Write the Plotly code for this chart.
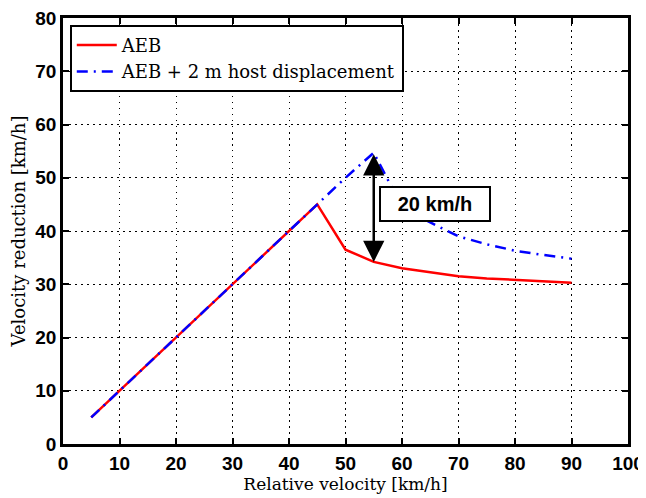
import plotly.graph_objects as go

rel_velocity = [5, 10, 15, 20, 25, 30, 35, 40, 45, 50, 55, 60, 65, 70, 75, 80, 85, 90]
aeb = [5, 10, 15, 20, 25, 30, 35, 40, 45, 36.5, 34.2, 33.0, 32.2, 31.5, 31.1, 30.8, 30.5, 30.3]
aeb_host = [5, 10, 15, 20, 25, 30, 35, 40, 45, 50.0, 54.7, 44.5, 41.6, 39.0, 37.5, 36.3, 35.5, 34.8]
x_ticks = [0, 10, 20, 30, 40, 50, 60, 70, 80, 90, 100]
y_ticks = [0, 10, 20, 30, 40, 50, 60, 70, 80]
arrow_x = 55
arrow_top = 54.7
arrow_bottom = 34.2
annot_x = 65.8
annot_y = 45.1
annot_text = "20 km/h"

SERIF = "DejaVu Serif, Liberation Serif, serif"
SANS = "Liberation Sans, Arial, sans-serif"

fig = go.Figure()
fig.add_trace(go.Scatter(x=rel_velocity, y=aeb, mode="lines", name="AEB",
                         line=dict(color="#ff0000", width=2.5)))
fig.add_trace(go.Scatter(x=rel_velocity, y=aeb_host, mode="lines",
                         name="AEB + 2 m host displacement",
                         line=dict(color="#0000ff", width=2.5, dash="11px,6px,2px,6px")))

# double-headed arrow
fig.add_annotation(x=arrow_x, y=arrow_bottom, ax=arrow_x, ay=arrow_top,
                   xref="x", yref="y", axref="x", ayref="y", text="",
                   showarrow=True, arrowhead=2, startarrowhead=2,
                   arrowside="end+start", arrowsize=1.7, startarrowsize=1.7,
                   arrowwidth=2.5, arrowcolor="black", standoff=0, startstandoff=0)
fig.add_annotation(x=annot_x, y=annot_y, xref="x", yref="y", text=annot_text,
                   showarrow=False,
                   font=dict(family=SANS, size=20, color="black", weight="bold"),
                   bgcolor="white", bordercolor="black", borderwidth=2, borderpad=2,
                   width=104, height=28)

axis_common = dict(showline=True, linecolor="black", linewidth=2.5, mirror="ticks",
                   ticks="inside", ticklen=6, tickwidth=2, tickcolor="black",
                   showgrid=True, gridcolor="black", gridwidth=1, griddash="1.5px,4.5px",
                   zeroline=False, automargin=False, ticklabeloverflow="allow",
                   tickfont=dict(family=SANS, size=19, color="black", weight="bold"))

fig.update_xaxes(range=[0, 100], tickvals=x_ticks,
                 title=dict(text="Relative velocity [km/h]", standoff=2,
                            font=dict(family=SERIF, size=17, color="black")),
                 **axis_common)
fig.update_yaxes(range=[0, 80], tickvals=y_ticks,
                 title=dict(text="Velocity reduction [km/h]", standoff=8,
                            font=dict(family=SERIF, size=18, color="black")),
                 **axis_common)

fig.update_layout(width=638, height=490,
                  margin=dict(l=55, r=18, t=10, b=54),
                  paper_bgcolor="white", plot_bgcolor="white",
                  showlegend=True,
                  legend=dict(x=0.012, y=0.984, xanchor="left", yanchor="top",
                              bgcolor="white", bordercolor="black", borderwidth=2,
                              font=dict(family=SERIF, size=18, color="black"),
                              tracegroupgap=0, itemwidth=40))

fig.write_html("out.html")
